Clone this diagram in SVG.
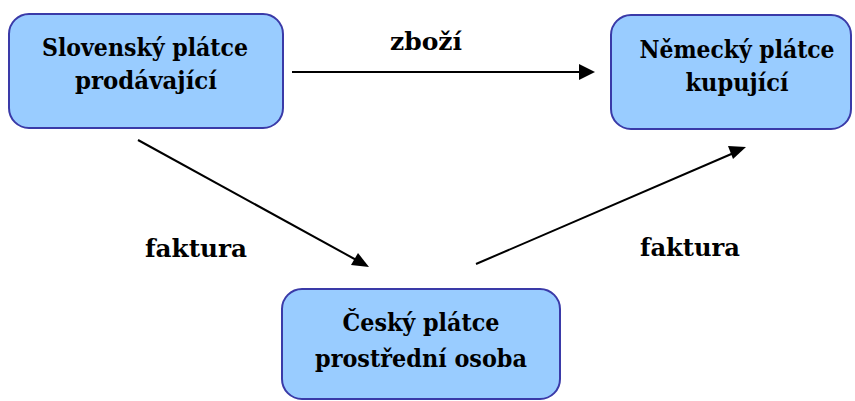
<svg xmlns="http://www.w3.org/2000/svg" width="855" height="401" viewBox="0 0 855 401">
<style>
.box{fill:#99CCFF;stroke:#3A3AA8;stroke-width:2}
.t{font-family:"DejaVu Serif","Liberation Serif",serif;font-weight:bold;font-size:24px;fill:#000;text-anchor:middle}
</style>
<rect width="855" height="401" fill="#fff"/>
<g id="connectors">
<line x1="292" y1="72" x2="582" y2="72" stroke="#000" stroke-width="2"/>
<path d="M579,64 L595,72 L579,80 z" fill="#000"/>
<line x1="138" y1="140" x2="360" y2="262" stroke="#000" stroke-width="2"/>
<path d="M369,267 L351,265 L358,253 z" fill="#000"/>
<line x1="476" y1="264" x2="736" y2="152" stroke="#000" stroke-width="2"/>
<path d="M746,147 L733,159 L728,146 z" fill="#000"/>
</g>
<g id="node-slovensky">
<rect class="box" x="9" y="14" width="274" height="114" rx="20"/>
<text class="t" x="145" y="56" textLength="206" lengthAdjust="spacingAndGlyphs">Slovenský plátce</text>
<text class="t" x="146" y="89" textLength="142" lengthAdjust="spacingAndGlyphs">prodávající</text>
</g>
<g id="node-nemecky">
<rect class="box" x="611" y="15" width="240" height="114" rx="20"/>
<text class="t" x="737" y="58" textLength="195" lengthAdjust="spacingAndGlyphs">Německý plátce</text>
<text class="t" x="737" y="91" textLength="103" lengthAdjust="spacingAndGlyphs">kupující</text>
</g>
<g id="node-cesky">
<rect class="box" x="282" y="289" width="278" height="110" rx="20"/>
<text class="t" x="421" y="331" textLength="157" lengthAdjust="spacingAndGlyphs">Český plátce</text>
<text class="t" x="421" y="367" textLength="212" lengthAdjust="spacingAndGlyphs">prostřední osoba</text>
</g>
<g id="labels">
<text class="t" x="426" y="50" textLength="72" lengthAdjust="spacingAndGlyphs">zboží</text>
<text class="t" x="196" y="257" textLength="102" lengthAdjust="spacingAndGlyphs">faktura</text>
<text class="t" x="690" y="256" textLength="100" lengthAdjust="spacingAndGlyphs">faktura</text>
</g>
</svg>
